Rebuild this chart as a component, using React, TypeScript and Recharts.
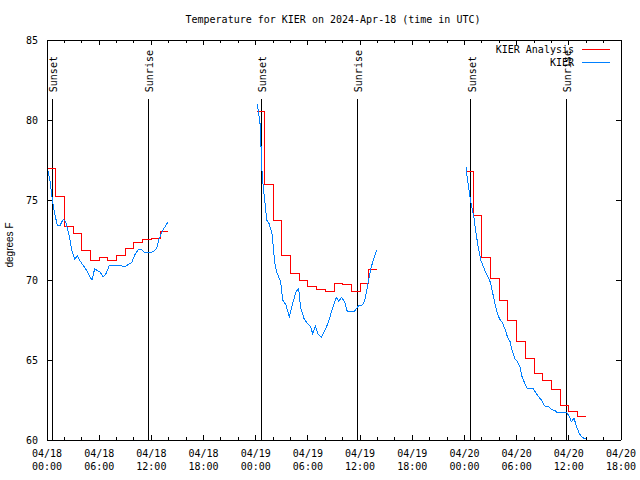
import React from "react";
import { LineChart, Line, XAxis, YAxis, ReferenceLine } from "recharts";

// x = hours since 2024-04-18 00:00 UTC, y = degrees F

// hourly analysis (drawn as steps)
const analysisDay1 = [
  [0.1, 77.0], [1, 75.25], [2, 73.33], [3, 72.9], [4, 71.83], [5, 71.25],
  [6, 71.42], [7, 71.19], [8, 71.54], [9, 71.96], [10, 72.36], [11, 72.56],
  [12, 72.6], [13, 73.06], [13.9, 73.06],
];
const analysisDay2 = [
  [24.2, 80.56], [25, 75.98], [26, 73.75], [27, 71.56], [28, 70.4], [29, 69.96],
  [30, 69.58], [31, 69.42], [32, 69.31], [33, 69.79], [34, 69.69], [35, 69.31],
  [36, 69.79], [37, 70.63], [37.9, 70.63],
];
const analysisDay3 = [
  [48.3, 76.81], [49, 74.06], [50, 71.42], [51, 70.1], [52, 68.75], [53, 67.5],
  [54, 66.15], [55, 65.1], [56, 64.17], [57, 63.75], [58, 63.13], [59, 62.13],
  [60, 61.77], [61, 61.5], [62, 61.5],
];

// station observations
const obsDay1 = [
  [0.11, 76.8], [0.34, 76.2], [0.57, 75.2], [0.8, 74.4], [1.18, 73.4], [1.49, 73.4],
  [1.87, 73.8], [2.18, 73.6], [2.41, 73.1], [2.64, 72.5], [2.87, 71.8], [3.18, 71.3],
  [3.48, 71.5], [3.79, 71.2], [4.17, 70.9], [4.56, 70.6], [4.94, 70.2], [5.17, 70.0],
  [5.48, 70.7], [5.78, 70.6], [6.09, 70.5], [6.47, 70.2], [6.78, 70.4], [7.16, 70.9],
  [8.01, 70.9], [8.59, 70.9], [8.85, 70.8], [9.16, 70.9], [9.74, 71.1], [10.12, 71.6],
  [10.5, 71.9], [10.89, 71.9], [11.27, 71.7], [11.84, 71.7], [12.3, 71.8], [12.61, 72.0],
  [12.91, 72.6], [13.3, 73.1], [13.88, 73.6],
];
const obsDay2 = [
  [24.18, 81.0], [24.34, 80.4], [24.49, 79.8], [24.57, 79.0], [24.64, 77.8], [24.72, 76.8],
  [24.87, 75.8], [25.03, 75.0], [25.26, 73.75], [25.56, 73.5], [25.87, 72.9], [26.02, 72.1],
  [26.18, 71.1], [26.41, 70.5], [26.71, 70.1], [26.87, 69.9], [27.1, 68.75], [27.48, 68.44],
  [27.86, 67.71], [28.25, 68.54], [28.63, 69.27], [28.94, 69.48], [29.17, 68.23], [29.55, 67.6],
  [29.93, 67.29], [30.32, 67.08], [30.55, 66.63], [30.85, 67.13], [31.16, 66.63], [31.54, 66.42],
  [31.93, 66.83], [32.31, 67.29], [32.77, 68.13], [33.15, 68.75], [33.31, 68.92], [33.54, 68.65],
  [33.84, 68.92], [34.23, 68.65], [34.53, 68.02], [35.3, 68.02], [35.84, 68.4], [36.3, 68.44],
  [36.6, 68.85], [36.9, 69.79], [37.2, 70.63], [37.51, 71.25], [37.9, 71.88],
];
const obsDay3 = [
  [48.18, 77.04], [48.33, 76.35], [48.49, 75.73], [48.64, 75.21], [48.79, 74.69], [48.95, 74.27],
  [49.1, 73.85], [49.25, 73.23], [49.48, 72.4], [49.64, 71.88], [49.87, 71.25], [50.1, 70.94],
  [50.48, 70.42], [50.79, 70.1], [51.02, 69.79], [51.17, 69.38], [51.48, 68.6], [51.78, 67.92],
  [52.01, 67.6], [52.4, 67.29], [52.7, 66.88], [52.93, 66.46], [53.24, 66.15], [53.47, 65.63],
  [53.78, 65.1], [54.08, 64.9], [54.39, 64.58], [54.62, 63.96], [54.85, 63.65], [55.23, 63.19],
  [55.92, 63.19], [56.38, 62.81], [56.84, 62.5], [57.23, 62.13], [57.69, 62.08], [57.99, 61.92],
  [58.45, 61.83], [58.61, 61.71], [59.76, 61.71], [60.06, 61.46], [60.29, 61.15], [60.6, 61.35],
  [60.9, 60.83], [61.2, 60.42], [61.52, 60.17], [61.83, 60.08], [62.06, 60.08],
];

const sunEvents = [
  { label: "Sunset", hour: 0.61 },
  { label: "Sunrise", hour: 11.65 },
  { label: "Sunset", hour: 24.64 },
  { label: "Sunrise", hour: 35.68 },
  { label: "Sunset", hour: 48.7 },
  { label: "Sunrise", hour: 59.7 },
];
const sunLineTop = 81.3;

const hourTicks = [
  0, 2, 4, 6, 8, 10, 12, 14, 16, 18, 20, 22, 24, 26, 28, 30, 32, 34,
  36, 38, 40, 42, 44, 46, 48, 50, 52, 54, 56, 58, 60, 62, 64, 66,
];
const tempTicks = [60, 65, 70, 75, 80, 85];

const MONO = "'DejaVu Sans Mono', monospace";
const RED = "#ff0000";
const BLUE = "#0080ff";

const toRows = (pts: number[][]) => pts.map(([hour, temp]) => ({ hour, temp }));

function timeLabel(h: number) {
  const day = 18 + Math.floor(h / 24);
  const hh = h % 24;
  return [`04/${day}`, `${String(hh).padStart(2, "0")}:00`];
}

const BottomTick = (props: any) => {
  const { x, y, payload } = props;
  const major = payload.value % 6 === 0;
  const [d, t] = timeLabel(payload.value);
  return (
    <g>
      <line x1={x} x2={x} y1={y} y2={y - (major ? 5 : 3)} stroke="#000" />
      {major && (
        <text x={x} y={y + 17} textAnchor="middle" fontFamily={MONO} fontSize={10} fill="#000">
          {d}
        </text>
      )}
      {major && (
        <text x={x} y={y + 30} textAnchor="middle" fontFamily={MONO} fontSize={10} fill="#000">
          {t}
        </text>
      )}
    </g>
  );
};

const TopTick = (props: any) => {
  const { x, y, payload } = props;
  const major = payload.value % 6 === 0;
  return <line x1={x} x2={x} y1={y} y2={y + (major ? 5 : 3)} stroke="#000" />;
};

const LeftTick = (props: any) => {
  const { x, y, payload } = props;
  return (
    <g>
      <line x1={x + 9} x2={x + 14} y1={y} y2={y} stroke="#000" />
      <text x={x} y={y + 3.5} textAnchor="end" fontFamily={MONO} fontSize={10} fill="#000">
        {payload.value}
      </text>
    </g>
  );
};

const RightTick = (props: any) => {
  const { x, y } = props;
  return <line x1={x} x2={x - 5} y1={y} y2={y} stroke="#000" />;
};

const sunLabel = (text: string) => (props: any) => {
  const vb = props.viewBox || {};
  const lx = vb.x + 5;
  const ly = vb.y - 7;
  return (
    <text
      transform={`translate(${lx},${ly}) rotate(-90)`}
      textAnchor="start"
      fontFamily={MONO}
      fontSize={10}
      fill="#000"
    >
      {text}
    </text>
  );
};

export default function App() {
  const analysis = [analysisDay1, analysisDay2, analysisDay3].map(toRows);
  const obs = [obsDay1, obsDay2, obsDay3].map(toRows);

  return (
    <div style={{ position: "absolute", left: 0, top: 0, width: 640, height: 480, background: "#fff" }}>
      <LineChart
        width={640}
        height={480}
        margin={{ top: 0, right: 0, bottom: 0, left: 0 }}
        style={{ shapeRendering: "crispEdges" }}
      >
        <XAxis
          dataKey="hour"
          type="number"
          domain={[0, 66]}
          ticks={hourTicks}
          interval={0}
          allowDataOverflow
          height={40}
          tickSize={0}
          tickMargin={0}
          tickLine={false}
          axisLine={{ stroke: "#000" }}
          tick={<BottomTick />}
        />
        <XAxis
          xAxisId="top"
          orientation="top"
          dataKey="hour"
          type="number"
          domain={[0, 66]}
          ticks={hourTicks}
          interval={0}
          allowDataOverflow
          height={40}
          tickSize={0}
          tickMargin={0}
          tickLine={false}
          axisLine={{ stroke: "#000" }}
          tick={<TopTick />}
        />
        <YAxis
          type="number"
          domain={[60, 85]}
          ticks={tempTicks}
          interval={0}
          allowDataOverflow
          width={47}
          tickSize={0}
          tickMargin={9}
          tickLine={false}
          axisLine={{ stroke: "#000" }}
          tick={<LeftTick />}
        />
        <YAxis
          yAxisId="mirror"
          orientation="right"
          type="number"
          domain={[60, 85]}
          ticks={tempTicks}
          interval={0}
          allowDataOverflow
          width={19}
          tickSize={0}
          tickMargin={0}
          tickLine={false}
          axisLine={{ stroke: "#000" }}
          tick={<RightTick />}
        />
        {sunEvents.map((ev, i) => (
          <ReferenceLine
            key={"sun" + i}
            segment={[
              { x: ev.hour, y: sunLineTop },
              { x: ev.hour, y: 60 },
            ]}
            stroke="#000"
            strokeWidth={1}
            label={sunLabel(ev.label)}
          />
        ))}
        {analysis.map((rows, i) => (
          <Line
            key={"ana" + i}
            data={rows}
            dataKey="temp"
            type="stepAfter"
            stroke={RED}
            strokeWidth={1}
            dot={false}
            activeDot={false}
            isAnimationActive={false}
          />
        ))}
        {obs.map((rows, i) => (
          <Line
            key={"obs" + i}
            data={rows}
            dataKey="temp"
            type="linear"
            stroke={BLUE}
            strokeWidth={1}
            dot={false}
            activeDot={false}
            isAnimationActive={false}
          />
        ))}
      </LineChart>
      <svg
        width={640}
        height={480}
        style={{ position: "absolute", left: 0, top: 0, pointerEvents: "none" }}
      >
        <text x={333} y={23} textAnchor="middle" fontFamily={MONO} fontSize={10} fill="#000">
          Temperature for KIER on 2024-Apr-18 (time in UTC)
        </text>
        <text
          transform="translate(13,245) rotate(-90)"
          textAnchor="middle"
          fontFamily="'Liberation Sans', sans-serif"
          fontSize={10}
          fill="#000"
        >
          degrees F
        </text>
        <text x={574} y={53} textAnchor="end" fontFamily={MONO} fontSize={10} fill="#000">
          KIER Analysis
        </text>
        <line x1={582} x2={610} y1={49.5} y2={49.5} stroke={RED} />
        <text x={574} y={66} textAnchor="end" fontFamily={MONO} fontSize={10} fill="#000">
          KIER
        </text>
        <line x1={582} x2={610} y1={62.5} y2={62.5} stroke={BLUE} />
      </svg>
    </div>
  );
}
